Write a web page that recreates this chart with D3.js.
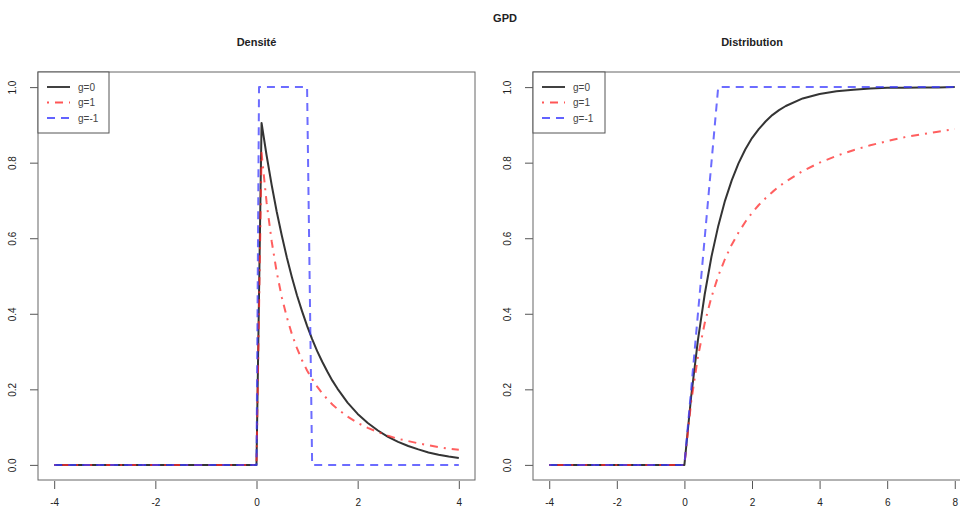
<!DOCTYPE html>
<html lang="en">
<head>
<meta charset="utf-8">
<title>GPD</title>
<script src="https://cdn.jsdelivr.net/npm/d3@7"></script>
<style>
  body { margin: 0; background: #fff; }
  svg text { font-family: "Liberation Sans", Arial, sans-serif; fill: #222; }
  .axis path, .axis line { stroke: #555; fill: none; }
</style>
</head>
<body>
<script>
// density panel
var xDens = [-4, 0, 0.1, 0.2, 0.3, 0.4, 0.5, 0.6, 0.7, 0.8, 0.9, 1.0, 1.1, 1.2, 1.3, 1.4, 1.5, 1.6, 1.8, 2.0, 2.2, 2.4, 2.6, 2.8, 3.0, 3.2, 3.4, 3.6, 3.8, 4.0];
var densG0 = [0, 0, 0.905, 0.819, 0.741, 0.670, 0.607, 0.549, 0.497, 0.449, 0.407, 0.368, 0.333, 0.301, 0.273, 0.247, 0.223, 0.202, 0.165, 0.135, 0.111, 0.091, 0.074, 0.061, 0.050, 0.041, 0.033, 0.027, 0.022, 0.018];
var densG1 = [0, 0, 0.826, 0.694, 0.592, 0.510, 0.444, 0.391, 0.346, 0.309, 0.277, 0.250, 0.227, 0.207, 0.189, 0.174, 0.160, 0.148, 0.128, 0.111, 0.098, 0.087, 0.077, 0.069, 0.063, 0.057, 0.052, 0.047, 0.043, 0.040];
var xDensGm1 = [-4, 0, 0.05, 1.0, 1.1, 4.0];
var densGm1 = [0, 0, 1, 1, 0, 0];

// distribution panel
var xDist = [-4, 0, 0.2, 0.4, 0.6, 0.8, 1.0, 1.2, 1.4, 1.6, 1.8, 2.0, 2.2, 2.4, 2.6, 2.8, 3.0, 3.5, 4.0, 4.5, 5.0, 5.5, 6.0, 6.5, 7.0, 7.5, 8.0];
var distG0 = [0, 0, 0.181, 0.330, 0.451, 0.551, 0.632, 0.699, 0.753, 0.798, 0.835, 0.865, 0.889, 0.909, 0.926, 0.939, 0.950, 0.970, 0.982, 0.989, 0.993, 0.996, 0.998, 0.998, 0.999, 0.999, 1.0];
var distG1 = [0, 0, 0.167, 0.286, 0.375, 0.444, 0.500, 0.545, 0.583, 0.615, 0.643, 0.667, 0.688, 0.706, 0.722, 0.737, 0.750, 0.778, 0.800, 0.818, 0.833, 0.846, 0.857, 0.867, 0.875, 0.882, 0.889];
var xDistGm1 = [-4, 0, 1, 8];
var distGm1 = [0, 0, 1, 1];

var legendLabels = ["g=0", "g=1", "g=-1"];
var yTicks = [0, 0.2, 0.4, 0.6, 0.8, 1.0];
var xTicksDens = [-4, -2, 0, 2, 4];
var xTicksDist = [-4, -2, 0, 2, 4, 6, 8];

var styles = [
  { color: "#111", dash: null, width: 2 },
  { color: "#ff2a2a", dash: "2,6,8,6", width: 2 },
  { color: "#3b3bff", dash: "8,6", width: 2 }
];

var W = 960, H = 510;
var svg = d3.select("body").append("svg").attr("width", W).attr("height", H);

svg.append("text").attr("x", 505).attr("y", 22).attr("text-anchor", "middle")
  .style("font-weight", "bold").style("font-size", "11px").text("GPD");

function panel(opts) {
  var x = d3.scaleLinear().domain(opts.xDomain).range([opts.left, opts.right]);
  var y = d3.scaleLinear().domain([-0.04, 1.04]).range([480, 72]);
  var g = svg.append("g");

  g.append("text").attr("x", (opts.left + opts.right) / 2).attr("y", 46)
    .attr("text-anchor", "middle").style("font-weight", "bold").style("font-size", "11px")
    .text(opts.title);

  var xa = g.append("g").attr("class", "axis").attr("transform", "translate(0,489)")
    .call(d3.axisBottom(x).tickValues(opts.xTicks).tickSize(8).tickSizeOuter(0)
      .tickFormat(function(d){ return String(d); }));
  xa.select(".domain").remove();
  xa.selectAll("line").attr("y1", -8).attr("y2", 0);
  xa.selectAll("text").attr("y", 10).style("font-size", "10px");

  var ya = g.append("g").attr("class", "axis").attr("transform", "translate(" + (opts.left - 8) + ",0)")
    .call(d3.axisLeft(y).tickValues(yTicks).tickSize(8).tickSizeOuter(0).tickFormat(d3.format(".1f")));
  ya.select(".domain").remove();
  ya.selectAll("line").attr("x1", 0).attr("x2", 8);
  ya.selectAll("text").attr("x", 0).attr("dy", 0)
    .attr("transform", "translate(-14,0) rotate(-90)")
    .attr("text-anchor", "middle").style("font-size", "10px");

  var line = d3.line().x(function(d){ return x(d[0]); }).y(function(d){ return y(d[1]); });
  opts.series.forEach(function(s, i) {
    var pts = s.xs.map(function(v, j){ return [v, s.ys[j]]; });
    g.append("path").datum(pts).attr("d", line)
      .attr("fill", "none").attr("stroke", styles[i].color)
      .attr("stroke-width", styles[i].width)
      .attr("stroke-dasharray", styles[i].dash)
      .attr("stroke-linejoin", "round")
      .attr("stroke-opacity", i === 0 ? 0.85 : 0.75);
  });

  g.append("rect").attr("x", opts.left).attr("y", 72)
    .attr("width", opts.right - opts.left).attr("height", 408)
    .attr("fill", "none").attr("stroke", "#666");

  // legend
  var lw = opts.legendW;
  g.append("rect").attr("x", opts.left).attr("y", 72).attr("width", lw).attr("height", 61)
    .attr("fill", "#fff").attr("stroke", "#555");
  legendLabels.forEach(function(lab, i) {
    var yy = 87 + i * 15.5;
    g.append("line").attr("x1", opts.left + 9).attr("x2", opts.left + 32)
      .attr("y1", yy).attr("y2", yy)
      .attr("stroke", styles[i].color).attr("stroke-width", styles[i].width)
      .attr("stroke-dasharray", styles[i].dash).attr("stroke-opacity", 0.8);
    g.append("text").attr("x", opts.left + 40).attr("y", yy + 3.5)
      .style("font-size", "10px").style("fill", "#444").text(lab);
  });
}

panel({
  title: "Densité", left: 38, right: 475, xDomain: [-4.32, 4.32], xTicks: xTicksDens, legendW: 71,
  series: [
    { xs: xDens, ys: densG0 },
    { xs: xDens, ys: densG1 },
    { xs: xDensGm1, ys: densGm1 }
  ]
});

panel({
  title: "Distribution", left: 533, right: 971, xDomain: [-4.48, 8.48], xTicks: xTicksDist, legendW: 72,
  series: [
    { xs: xDist, ys: distG0 },
    { xs: xDist, ys: distG1 },
    { xs: xDistGm1, ys: distGm1 }
  ]
});
</script>
</body>
</html>
